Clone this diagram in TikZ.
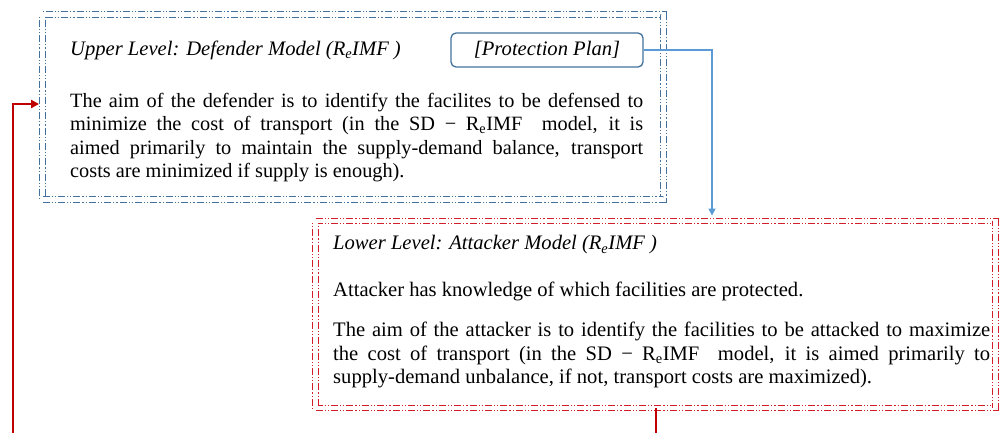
\documentclass[tikz,border=0pt]{standalone}
\usepackage{fontspec}
\setmainfont{Liberation Serif}
\usetikzlibrary{positioning, arrows.meta}
\definecolor{DefBlue}{RGB}{65, 113, 156}
\definecolor{PlanBlue}{RGB}{91, 155, 213}
\definecolor{AttRed}{RGB}{210, 30, 40}
\definecolor{LinkRed}{RGB}{192, 0, 0}
\hyphenpenalty=10000
\exhyphenpenalty=10000

\begin{document}
\begin{tikzpicture}[x=1pt, y=-1pt,
    levelbox/.style={draw=#1, double=white, double distance=4.5pt, line width=0.9pt,
      dash pattern=on 7pt off 2pt on 1.2pt off 2pt on 1.2pt off 2pt, inner sep=0pt},
    titletext/.style={anchor=west, inner sep=0pt, font=\fontsize{20.6}{23.3}\selectfont\itshape},
    bodytext/.style={anchor=north west, inner sep=0pt, align=justify,
      font=\fontsize{20.6}{23.3}\selectfont}]
    \path[use as bounding box, clip] (0,0) rectangle (1003,432);
    % Upper level
    \node[levelbox=DefBlue, minimum width=621pt, minimum height=185pt] (upper) at (353,107) {};
    \node[titletext] (uptitle) at (70,50) {Upper Level: Defender Model (R\textsubscript{e}IMF\ )};
    \node[draw=DefBlue, line width=1.3pt, rounded corners=5pt, minimum width=192pt, minimum height=34pt,
      font=\fontsize{20.6}{23.3}\selectfont\itshape] (pplan) at (547,50) {[Protection Plan]};
    \node[bodytext, text width=573pt, font=\fontsize{20.3}{23.3}\selectfont] (upbody) at (70,93) {The aim of the defender is to identify the facilites to be defensed to\linebreak minimize the cost of transport (in the SD − R\textsubscript{e}IMF\ \ model, it is\linebreak aimed primarily to maintain the supply-demand balance, transport\linebreak costs are minimized if supply is enough).};
    % Lower level
    \node[levelbox=AttRed, minimum width=680pt, minimum height=187pt] (lower) at (655.5,314.5) {};
    \node[titletext] (lowtitle) at (333,245) {Lower Level: Attacker Model (R\textsubscript{e}IMF\ )};
    \node[bodytext, anchor=west] (know) at (333,291) {Attacker has knowledge of which facilities are protected.};
    \node[bodytext, text width=657pt] (lowbody) at (333,322) {The aim of the attacker is to identify the facilities to be attacked to maximize the cost of transport (in the SD − R\textsubscript{e}IMF\ \ model, it is aimed primarily to supply-demand unbalance, if not, transport costs are maximized).};
    % Links
    \coordinate (loopl) at (13,450);
    \draw[PlanBlue, line width=1.5pt, -{Triangle[length=7pt, width=7pt]}, shorten >=5pt]
      (pplan.east) -| ([xshift=56.5pt]lower.north);
    \draw[LinkRed, line width=2pt, -{Triangle[length=8pt, width=8pt]}, shorten >=3pt]
      (lower.south) -- (lower.south |- loopl) -- (loopl) |- ([yshift=3pt]upper.west);
\end{tikzpicture}
\end{document}
